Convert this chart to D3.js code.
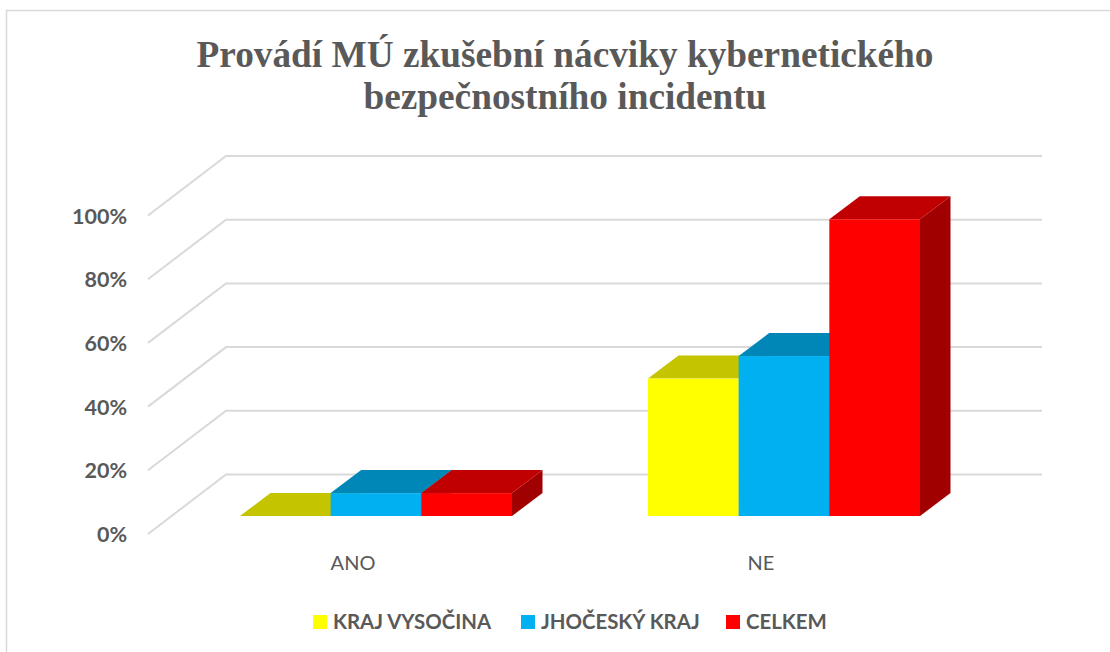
<!DOCTYPE html>
<html>
<head>
<meta charset="utf-8">
<script src="https://cdn.jsdelivr.net/npm/d3@7"></script>
<style>
  html, body { margin: 0; background: #fff; }
  svg { display: block; }
  text { fill: #595959; }
</style>
</head>
<body>
<svg width="1110" height="652"></svg>
<script>
const titleLines = ['Provádí MÚ zkušební nácviky kybernetického', 'bezpečnostního incidentu'];
const categories = ['ANO', 'NE'];
const seriesNames = ['KRAJ VYSOČINA', 'JHOČESKÝ KRAJ', 'CELKEM'];
const krajVysocina = [0, 43.2];
const jihocesky = [7.2, 50.3];
const celkem = [7.2, 93.3];
const yTicks = [0, 20, 40, 60, 80, 100];

const seriesValues = [krajVysocina, jihocesky, celkem];
const frontColors = ['#ffff00', '#00b0f0', '#ff0000'];
const topColors = ['#c4c400', '#0087b8', '#c00000'];
const sideColors = ['#a0a000', '#006f9c', '#a00000'];

const svg = d3.select('svg');

const depthX = 30.5, depthY = -23;

// frame, only the left and top edges are inside the crop
svg.append('path')
  .attr('d', 'M6.5,652V10.5H1110')
  .attr('fill', 'none').attr('stroke', '#d9d9d9').attr('stroke-width', 1.5);

svg.append('g').selectAll('text')
  .data(titleLines)
  .enter().append('text')
    .attr('x', 565)
    .attr('y', (d, i) => 67 + i * 42)
    .attr('text-anchor', 'middle')
    .style('font', 'bold 37.3px "Liberation Serif"')
    .text(d => d);

// three y scales: back wall, tick labels on the front edge, bars
const yBack = d3.scaleLinear().domain([0, 100]).range([474.5, 156]);
const yLabel = d3.scaleLinear().domain([0, 100]).range([534.5, 216.5]);
const yBar = d3.scaleLinear().domain([0, 100]).range([516, 198]);

const x0 = d3.scaleBand().domain(categories).range([172, 988]);
const x1 = d3.scaleBand().domain(seriesNames).range([68, 340]);
const xLabel = d3.scaleBand().domain(categories).range([149, 965]);

const grid = svg.append('g');
grid.selectAll('path')
  .data(yTicks)
  .enter().append('path')
    .attr('d', d => {
      const p = d3.path();
      p.moveTo(148, yBack(d) + 59.5);
      p.lineTo(226, yBack(d));
      p.lineTo(1042, yBack(d));
      return p.toString();
    })
    .attr('fill', 'none')
    .attr('stroke', '#d9d9d9')
    .attr('stroke-width', 2);

const yAxis = svg.append('g')
  .attr('transform', 'translate(127,0)')
  .call(d3.axisLeft(yLabel).tickValues(yTicks).tickSize(0).tickPadding(0).tickFormat(d => d + '%'));
yAxis.select('.domain').remove();
yAxis.selectAll('text')
  .style('font', 'bold 21.5px Lato')
  .style('fill', '#595959');

const xAxis = svg.append('g')
  .attr('transform', 'translate(0,556)')
  .call(d3.axisBottom(xLabel).tickSize(0).tickPadding(0));
xAxis.select('.domain').remove();
xAxis.selectAll('text')
  .style('font', '20px Lato')
  .style('fill', '#595959');

const polygon = pts => pts.map(p => p.join(',')).join(' ');

seriesNames.forEach((name, s) => {
  const g = svg.append('g').attr('class', 'series');
  const rows = categories.map((c, i) => ({ cat: c, value: seriesValues[s][i] }));
  const left = d => x0(d.cat) + x1(name);
  const right = d => left(d) + x1.bandwidth();

  g.selectAll('.side').data(rows).enter().append('polygon')
    .attr('class', 'side')
    .attr('fill', sideColors[s])
    .attr('points', d => polygon([
      [right(d), yBar(0)],
      [right(d) + depthX, yBar(0) + depthY],
      [right(d) + depthX, yBar(d.value) + depthY],
      [right(d), yBar(d.value)]
    ]));

  g.selectAll('.top').data(rows).enter().append('polygon')
    .attr('class', 'top')
    .attr('fill', topColors[s])
    .attr('points', d => polygon([
      [left(d), yBar(d.value)],
      [right(d), yBar(d.value)],
      [right(d) + depthX, yBar(d.value) + depthY],
      [left(d) + depthX, yBar(d.value) + depthY]
    ]));

  g.selectAll('.front').data(rows).enter().append('rect')
    .attr('class', 'front')
    .attr('fill', frontColors[s])
    .attr('x', left)
    .attr('y', d => yBar(d.value))
    .attr('width', x1.bandwidth())
    .attr('height', d => yBar(0) - yBar(d.value));
});

// legend
const legendX = [313, 521, 726];
const legend = svg.append('g').selectAll('g')
  .data(seriesNames)
  .enter().append('g')
    .attr('transform', (d, i) => `translate(${legendX[i]},615)`);
legend.append('rect')
  .attr('width', 14).attr('height', 14)
  .attr('fill', (d, i) => frontColors[i]);
legend.append('text')
  .attr('x', 20).attr('y', 14)
  .style('font', 'bold 20.4px Lato')
  .text(d => d);
</script>
</body>
</html>
